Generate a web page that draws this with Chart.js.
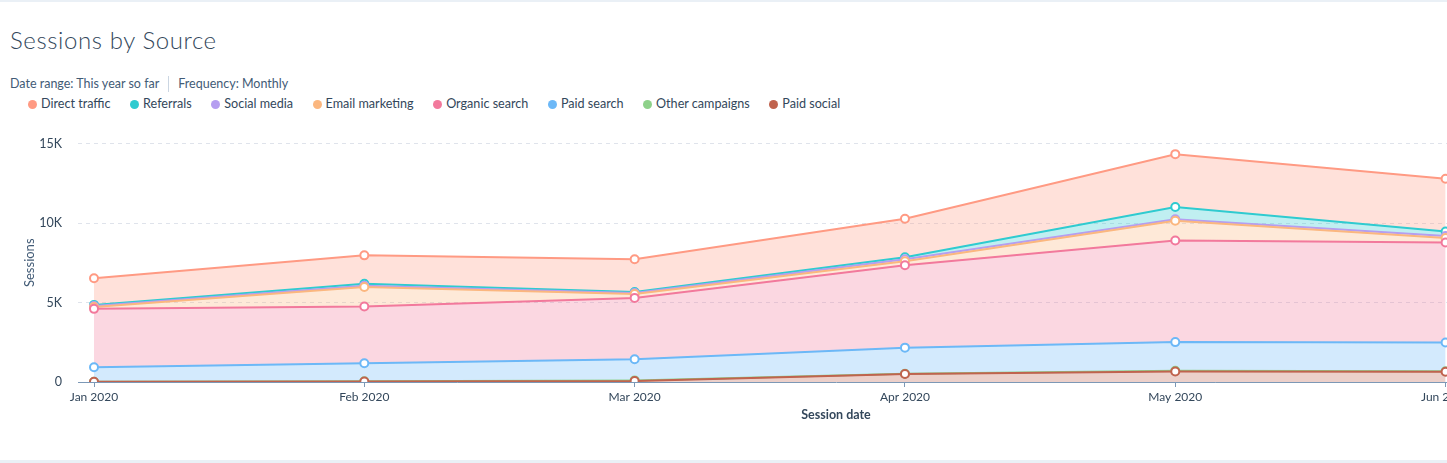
<!DOCTYPE html>
<html>
<head>
<meta charset="utf-8">
<title>Sessions by Source</title>
<script src="https://cdn.jsdelivr.net/npm/chart.js@4.4.1/dist/chart.umd.min.js"></script>
<style>
  html, body { margin: 0; padding: 0; background: #fff; overflow: hidden; }
  body { width: 1447px; height: 463px; position: relative; font-family: Lato, "Open Sans", sans-serif; color: #33475b; }
  .topline { position: absolute; left: 0; top: 0; width: 100%; height: 2px; background: #eaf0f6; }
  .bottomline { position: absolute; left: 0; top: 460px; width: 100%; height: 3px; background: #eaf0f6; }
  h1 { position: absolute; left: 10px; top: 25px; margin: 0; font-size: 24px; letter-spacing: 0.6px; font-weight: 300; line-height: 30px; color: #33475b; }
  .meta { position: absolute; left: 10px; top: 76px; font-size: 12.5px; line-height: 16px; color: #425b76; display: flex; align-items: center; }
  .meta .sep { width: 1px; height: 16px; background: #cbd6e2; margin: 0 9px; }
  #legend { position: absolute; left: 28px; top: 96px; display: flex; font-size: 12.6px; line-height: 16px; color: #33475b; }
  #legend .item { display: flex; align-items: center; margin-right: 19.5px; }
  #legend .dot { width: 9px; height: 9px; border-radius: 50%; margin-right: 4px; }
  #chartBox { position: absolute; left: 0; top: 120px; width: 1600px; height: 310px; }
</style>
</head>
<body>
<div class="topline"></div>
<h1>Sessions by Source</h1>
<div class="meta"><span>Date range: This year so far</span><span class="sep"></span><span>Frequency: Monthly</span></div>
<div id="legend"></div>
<div id="chartBox"><canvas id="sessionsChart" width="1600" height="310"></canvas></div>
<div class="bottomline"></div>

<script>
// months on the x axis
const months = ["Jan 2020", "Feb 2020", "Mar 2020", "Apr 2020", "May 2020", "Jun 2020"];

// sessions per source (stacked, bottom to top)
const paidSocial     = [20, 30, 60, 500, 665, 650];
const otherCampaigns = [0, 10, 40, 20, 35, 30];
const paidSearch     = [910, 1140, 1330, 1640, 1810, 1800];
const organicSearch  = [3670, 3570, 3860, 5180, 6390, 6290];
const emailMarketing = [120, 1220, 250, 250, 1240, 280];
const socialMedia    = [60, 90, 60, 130, 90, 130];
const referrals      = [70, 120, 60, 120, 780, 280];
const directTraffic  = [1680, 1785, 2055, 2430, 3320, 3320];

const yTicks = [0, 5000, 10000, 15000];
const yTickLabels = ["0", "5K", "10K", "15K"];

// legend order as shown above the chart
const series = [
  { label: "Direct traffic",  data: directTraffic,  color: "#ff9a83" },
  { label: "Referrals",       data: referrals,      color: "#2fcbd0" },
  { label: "Social media",    data: socialMedia,    color: "#b59ef0" },
  { label: "Email marketing", data: emailMarketing, color: "#fbb77f" },
  { label: "Organic search",  data: organicSearch,  color: "#f2799c" },
  { label: "Paid search",     data: paidSearch,     color: "#6cb8f7" },
  { label: "Other campaigns", data: otherCampaigns, color: "#8ed18a" },
  { label: "Paid social",     data: paidSocial,     color: "#c0634e" }
];

function hexToRgba(hex, a) {
  const n = parseInt(hex.slice(1), 16);
  return `rgba(${(n >> 16) & 255}, ${(n >> 8) & 255}, ${n & 255}, ${a})`;
}

// html legend
const legendEl = document.getElementById("legend");
series.forEach(s => {
  const item = document.createElement("div");
  item.className = "item";
  item.innerHTML = `<span class="dot" style="background:${s.color}"></span><span>${s.label}</span>`;
  legendEl.appendChild(item);
});

// datasets go bottom -> top so stacking matches the picture
const datasets = series.slice().reverse().map((s, i) => ({
  label: s.label,
  data: s.data.map((v, idx) => ({ x: idx, y: v })),
  borderColor: s.color,
  backgroundColor: hexToRgba(s.color, 0.3),
  borderWidth: 2,
  fill: i === 0 ? "origin" : "-1",
  tension: 0,
  pointRadius: 4,
  pointBorderWidth: 2,
  pointBackgroundColor: "#fff",
  pointBorderColor: s.color
}));

const ctx = document.getElementById("sessionsChart").getContext("2d");
new Chart(ctx, {
  type: "line",
  data: { datasets: datasets },
  options: {
    responsive: false,
    animation: false,
    events: [],
    layout: { padding: { top: 21, right: 0, bottom: 0, left: 0 } },
    plugins: { legend: { display: false }, tooltip: { enabled: false } },
    scales: {
      x: {
        type: "linear",
        min: -0.0592,
        max: 5.549,
        afterBuildTicks: scale => { scale.ticks = months.map((m, i) => ({ value: i })); },
        afterFit: scale => { scale.height = 48; },
        grid: { drawOnChartArea: false, drawTicks: true, tickLength: 5, color: "#7c98b6" },
        border: { display: true, color: "#7c98b6", width: 1 },
        ticks: {
          autoSkip: false,
          maxRotation: 0,
          padding: 3,
          color: "#33475b",
          font: { family: "Lato", size: 12 },
          callback: v => months[v]
        },
        title: {
          display: true,
          text: "Session date",
          color: "#33475b",
          font: { family: "Lato", size: 12.5, weight: "bold" },
          padding: { top: 0, bottom: 8 }
        }
      },
      y: {
        stacked: true,
        min: 0,
        max: 15000,
        afterBuildTicks: scale => { scale.ticks = yTicks.map(v => ({ value: v })); },
        afterFit: scale => { scale.width = 78; },
        grid: { drawTicks: false, color: "#dfe3eb", lineWidth: 1 },
        border: { display: false, dash: [4, 4] },
        ticks: {
          padding: 16,
          color: "#33475b",
          font: { family: "Lato", size: 12.5 },
          callback: v => yTickLabels[yTicks.indexOf(v)]
        },
        title: {
          display: true,
          text: "Sessions",
          color: "#425b76",
          font: { family: "Lato", size: 13 },
          padding: { top: 22, bottom: 0 }
        }
      }
    }
  }
});
</script>
</body>
</html>
